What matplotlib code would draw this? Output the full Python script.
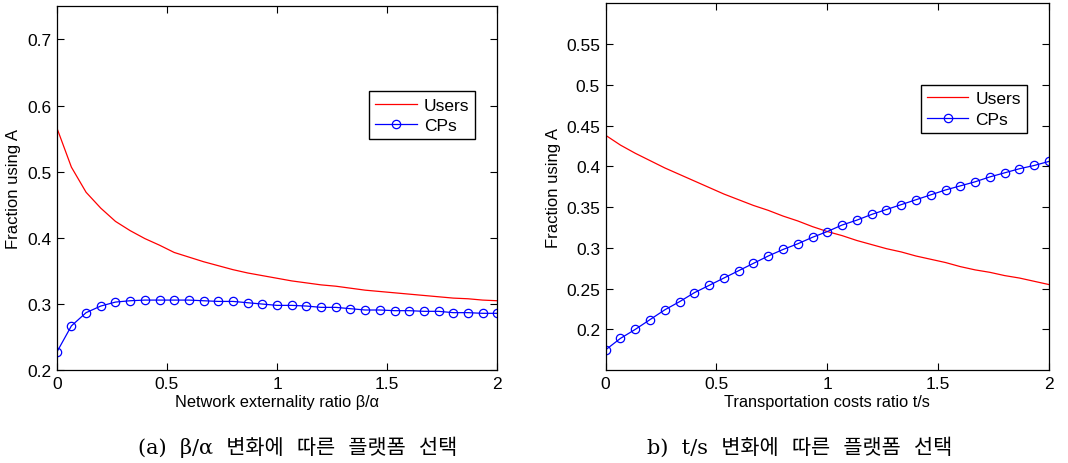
import numpy as np
import matplotlib.pyplot as plt

# x grid (31 points from 0 to 2)
x = np.linspace(0, 2, 31)

# (a) beta/alpha
users_a = [0.567, 0.507, 0.469, 0.445, 0.425, 0.411, 0.399, 0.389, 0.378, 0.371,
           0.364, 0.358, 0.352, 0.347, 0.343, 0.339, 0.335, 0.332, 0.329, 0.327,
           0.324, 0.321, 0.319, 0.317, 0.315, 0.313, 0.311, 0.309, 0.308, 0.306, 0.305]
cps_a = [0.227, 0.267, 0.287, 0.297, 0.303, 0.305, 0.306, 0.306, 0.306, 0.306,
         0.305, 0.304, 0.304, 0.302, 0.300, 0.298, 0.298, 0.297, 0.295, 0.295,
         0.293, 0.291, 0.291, 0.290, 0.290, 0.289, 0.289, 0.287, 0.287, 0.286, 0.286]

# (b) t/s
users_b = [0.438, 0.426, 0.416, 0.407, 0.398, 0.390, 0.382, 0.374, 0.366, 0.359,
           0.352, 0.346, 0.339, 0.333, 0.326, 0.320, 0.315, 0.309, 0.304, 0.299,
           0.295, 0.290, 0.286, 0.282, 0.277, 0.273, 0.270, 0.266, 0.263, 0.259, 0.255]
cps_b = [0.175, 0.189, 0.200, 0.212, 0.224, 0.234, 0.245, 0.254, 0.263, 0.272,
         0.281, 0.290, 0.298, 0.305, 0.313, 0.320, 0.328, 0.334, 0.341, 0.347,
         0.353, 0.359, 0.365, 0.371, 0.376, 0.381, 0.387, 0.392, 0.397, 0.401, 0.406]

xlabels = ['Network externality ratio \u03b2/\u03b1', 'Transportation costs ratio t/s']
captions = ['(a)  \u03b2/\u03b1  변화에  따른  플랫폼  선택', 'b)  t/s  변화에  따른  플랫폼  선택']
yticks_a = [0.2, 0.3, 0.4, 0.5, 0.6, 0.7]
yticks_b = [0.2, 0.25, 0.3, 0.35, 0.4, 0.45, 0.5, 0.55]

plt.rcParams['font.family'] = ['Liberation Sans', 'DejaVu Sans']
plt.rcParams['font.size'] = 12.5

fig = plt.figure(figsize=(10.68, 4.64), dpi=100)
ax1 = fig.add_axes([0.0531, 0.2, 0.4126, 0.784])
ax2 = fig.add_axes([0.5671, 0.2, 0.4151, 0.791])

def style(ax, ylim, yticks, xlabel):
    ax.set_xlim(0, 2)
    ax.set_ylim(*ylim)
    ax.set_xticks([0, 0.5, 1, 1.5, 2])
    ax.set_xticklabels(['0', '0.5', '1', '1.5', '2'])
    ax.set_yticks(yticks)
    ax.set_yticklabels(['%g' % v for v in yticks])
    ax.tick_params(direction='in', top=True, right=True, length=5, width=0.8, pad=4)
    for s in ax.spines.values():
        s.set_linewidth(0.9)
    ax.set_xlabel(xlabel, fontsize=11.8, labelpad=2)
    ax.set_ylabel('Fraction using A', fontsize=12, labelpad=4)

for ax, u, c in [(ax1, users_a, cps_a), (ax2, users_b, cps_b)]:
    ax.plot(x, u, color='red', lw=0.9, label='Users')
    ax.plot(x, c, color='blue', lw=0.9, marker='o', ms=6, mfc='none', mew=0.9, label='CPs')

style(ax1, (0.2, 0.75), yticks_a, xlabels[0])
style(ax2, (0.15, 0.6), yticks_b, xlabels[1])

for ax, anchor in [(ax1, (0.97, 0.79)), (ax2, (0.97, 0.80))]:
    leg = ax.legend(loc='upper right', bbox_to_anchor=anchor, fancybox=False,
                    edgecolor='black', framealpha=1, handlelength=2.4,
                    borderpad=0.35, labelspacing=0.3, handletextpad=0.4)
    leg.get_frame().set_linewidth(1.0)

fig.text(0.279, 0.035, captions[0], ha='center', va='center', fontsize=15,
         family=['DejaVu Serif', 'Noto Sans CJK KR'])
fig.text(0.749, 0.035, captions[1], ha='center', va='center', fontsize=15,
         family=['DejaVu Serif', 'Noto Sans CJK KR'])

fig.savefig('out.png', dpi=100)
